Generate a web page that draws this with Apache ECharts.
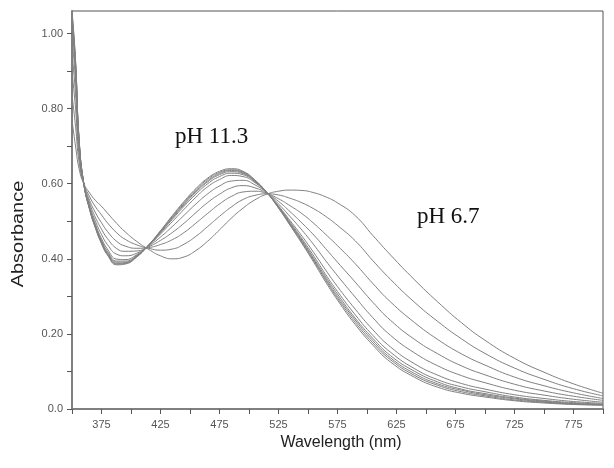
<!DOCTYPE html>
<html>
<head>
<meta charset="utf-8">
<script src="https://cdn.jsdelivr.net/npm/echarts@6/dist/echarts.min.js"></script>
<style>html,body{margin:0;padding:0;background:#fff}#c{width:614px;height:468px}</style>
</head>
<body>
<div id="c"></div>
<script>
// Wavelength grid (nm)
const wavelengths = [350,353,356,360,365,370,375,380,388,395,405,415,425,435,445,455,465,475,485,495,505,515,525,535,545,555,565,575,590,605,620,640,660,680,700,725,750,775,800];

// Spectra, from pH 11.3 (spectrum1) to pH 6.7 (spectrum11)
const spectrum1 = [1.060,0.930,0.720,0.600,0.530,0.480,0.440,0.410,0.384,0.386,0.405,0.437,0.475,0.515,0.553,0.587,0.615,0.633,0.640,0.633,0.610,0.577,0.535,0.488,0.440,0.390,0.338,0.290,0.225,0.170,0.125,0.085,0.058,0.042,0.032,0.022,0.016,0.012,0.010];
const spectrum2 = [1.054,0.925,0.718,0.600,0.531,0.482,0.442,0.412,0.386,0.388,0.406,0.437,0.474,0.513,0.550,0.584,0.612,0.630,0.637,0.631,0.609,0.577,0.536,0.490,0.443,0.394,0.343,0.295,0.231,0.176,0.131,0.090,0.063,0.046,0.035,0.024,0.018,0.013,0.011];
const spectrum3 = [1.048,0.921,0.717,0.600,0.532,0.483,0.444,0.414,0.388,0.389,0.407,0.437,0.472,0.510,0.547,0.580,0.608,0.627,0.635,0.629,0.608,0.577,0.537,0.492,0.446,0.397,0.347,0.300,0.237,0.182,0.136,0.095,0.067,0.050,0.038,0.027,0.019,0.014,0.011];
const spectrum4 = [1.043,0.916,0.715,0.600,0.533,0.485,0.446,0.417,0.391,0.391,0.408,0.436,0.471,0.508,0.544,0.577,0.605,0.624,0.632,0.627,0.607,0.577,0.538,0.494,0.449,0.401,0.352,0.306,0.242,0.188,0.142,0.101,0.072,0.053,0.041,0.029,0.021,0.015,0.012];
const spectrum5 = [1.034,0.909,0.713,0.600,0.534,0.487,0.449,0.420,0.394,0.394,0.409,0.436,0.469,0.505,0.540,0.572,0.600,0.619,0.628,0.624,0.605,0.577,0.539,0.497,0.453,0.407,0.358,0.313,0.251,0.196,0.151,0.108,0.078,0.059,0.046,0.032,0.023,0.017,0.013];
const spectrum6 = [1.019,0.898,0.709,0.600,0.536,0.491,0.454,0.426,0.399,0.398,0.411,0.435,0.466,0.499,0.532,0.564,0.592,0.611,0.622,0.619,0.603,0.576,0.541,0.501,0.460,0.416,0.370,0.326,0.266,0.211,0.165,0.121,0.090,0.068,0.053,0.038,0.028,0.020,0.015];
const spectrum7 = [0.988,0.873,0.700,0.600,0.541,0.499,0.465,0.438,0.412,0.408,0.415,0.434,0.458,0.486,0.516,0.546,0.573,0.594,0.607,0.609,0.597,0.576,0.546,0.512,0.476,0.437,0.395,0.355,0.298,0.243,0.196,0.150,0.115,0.089,0.070,0.050,0.037,0.026,0.018];
const spectrum8 = [0.947,0.840,0.689,0.600,0.548,0.509,0.479,0.454,0.427,0.420,0.421,0.432,0.449,0.470,0.495,0.523,0.550,0.572,0.589,0.595,0.589,0.575,0.553,0.525,0.495,0.463,0.427,0.391,0.338,0.284,0.236,0.186,0.147,0.115,0.091,0.066,0.048,0.034,0.023];
const spectrum9 = [0.898,0.801,0.675,0.600,0.555,0.522,0.496,0.473,0.446,0.434,0.428,0.430,0.438,0.451,0.470,0.495,0.521,0.546,0.566,0.578,0.580,0.574,0.560,0.541,0.520,0.494,0.465,0.435,0.387,0.334,0.285,0.231,0.185,0.147,0.117,0.085,0.062,0.043,0.028];
const spectrum10 = [0.837,0.753,0.658,0.600,0.565,0.538,0.517,0.496,0.469,0.452,0.437,0.428,0.423,0.426,0.439,0.460,0.486,0.513,0.538,0.558,0.569,0.573,0.570,0.561,0.549,0.533,0.513,0.489,0.448,0.395,0.345,0.285,0.233,0.187,0.148,0.109,0.079,0.054,0.035];
const spectrum11 = [0.770,0.700,0.640,0.600,0.575,0.555,0.540,0.522,0.494,0.472,0.446,0.425,0.408,0.400,0.405,0.422,0.447,0.477,0.508,0.535,0.557,0.572,0.580,0.583,0.582,0.576,0.565,0.549,0.515,0.462,0.410,0.345,0.285,0.230,0.183,0.135,0.098,0.067,0.042];

const spectra = [spectrum1,spectrum2,spectrum3,spectrum4,spectrum5,spectrum6,spectrum7,spectrum8,spectrum9,spectrum10,spectrum11];

// Axis ticks
const xTickLabels = [375,425,475,525,575,625,675,725,775];
const yTicks = [0,0.1,0.2,0.3,0.4,0.5,0.6,0.7,0.8,0.9,1.0];
const yTickLabels = [0,0.2,0.4,0.6,0.8,1.0];

const chart = echarts.init(document.getElementById('c'), null, {renderer:'canvas'});
const tickFont = {fontFamily:'Liberation Sans, Arial, sans-serif', fontSize:11, color:'#555'};

chart.setOption({
  animation:false,
  backgroundColor:'#fff',
  grid:{left:72,right:11,top:11,bottom:59,show:true,borderColor:'#555',borderWidth:1,backgroundColor:'transparent'},
  xAxis:{
    type:'value',min:350,max:800,interval:25,
    axisLine:{show:true,lineStyle:{color:'#808080',width:2}},
    axisTick:{show:true,length:5,lineStyle:{color:'#555',width:1}},
    axisLabel:Object.assign({margin:10,showMinLabel:true,showMaxLabel:true,
      formatter:function(v){return xTickLabels.indexOf(v)>=0?String(v):'';}},tickFont),
    splitLine:{show:false}
  },
  yAxis:{
    type:'value',min:0,max:1.06,
    axisLine:{show:true,lineStyle:{color:'#808080',width:2}},
    axisTick:{show:true,length:5,customValues:yTicks,lineStyle:{color:'#555',width:1}},
    axisLabel:Object.assign({margin:9,customValues:yTickLabels,
      formatter:function(v){return v===0?'0.0':v.toFixed(2);}},tickFont),
    splitLine:{show:false}
  },
  series:spectra.map(function(s){
    return {
      type:'line',showSymbol:false,silent:true,smooth:0.5,
      lineStyle:{color:'#808080',width:1},
      data:wavelengths.map(function(w,i){return [w,s[i]];})
    };
  }),
  graphic:[
    {type:'text',x:175,y:137,style:{text:'pH 11.3',font:'23px "Liberation Serif", "Times New Roman", serif',fill:'#111',verticalAlign:'middle',align:'left'}},
    {type:'text',x:417,y:217,style:{text:'pH 6.7',font:'23px "Liberation Serif", "Times New Roman", serif',fill:'#111',verticalAlign:'middle',align:'left'}},
    {type:'text',x:341,y:443,style:{text:'Wavelength (nm)',font:'16px "Liberation Sans", Arial, sans-serif',fill:'#222',verticalAlign:'middle',align:'center'}},
    {type:'text',x:19,y:234,rotation:Math.PI/2,scaleX:1.25,style:{text:'Absorbance',font:'16px "Liberation Sans", Arial, sans-serif',fill:'#222',verticalAlign:'middle',align:'center'}}
  ]
});
</script>
</body>
</html>
